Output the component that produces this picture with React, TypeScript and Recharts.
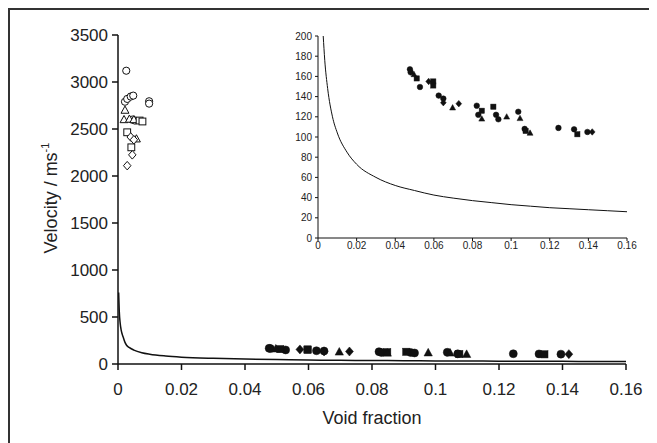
import React from "react";
import { ComposedChart, Line, Scatter, XAxis, YAxis } from "recharts";

// Model curve: [void fraction, velocity]
const curve: [number, number][] = [
  [0.0002, 760], [0.0004, 560], [0.0007, 430], [0.001, 360], [0.0016, 290],
  [0.0022, 230], [0.0027, 200], [0.0035, 176], [0.005, 148], [0.0075, 120],
  [0.01, 104], [0.015, 85], [0.02, 73], [0.03, 60], [0.04, 52], [0.05, 47],
  [0.06, 42.5], [0.07, 39.5], [0.08, 37], [0.09, 35], [0.1, 33], [0.11, 31.5],
  [0.12, 30], [0.13, 29], [0.14, 28], [0.15, 27], [0.16, 26],
];

// Open markers (low void fraction)
const openCircles: [number, number][] = [
  [0.0026, 3120], [0.0022, 2790], [0.0029, 2820], [0.004, 2845], [0.0048, 2855],
  [0.0098, 2795], [0.0098, 2770], [0.0045, 2600], [0.0053, 2590],
];
const openTriangles: [number, number][] = [
  [0.0022, 2700], [0.0019, 2600], [0.0036, 2605], [0.005, 2600], [0.0058, 2395],
];
const openSquares: [number, number][] = [
  [0.0029, 2465], [0.0042, 2305], [0.0068, 2590], [0.0077, 2580],
];
const openDiamonds: [number, number][] = [
  [0.004, 2415], [0.0045, 2225], [0.0029, 2110], [0.005, 2385],
];

// Filled markers (higher void fraction)
const filledCircles: [number, number][] = [
  [0.0476, 167], [0.048, 164], [0.0528, 149.5], [0.0625, 141], [0.0649, 138],
  [0.0822, 131], [0.083, 122], [0.0922, 122], [0.0934, 117.5], [0.1037, 125],
  [0.107, 108], [0.1245, 109], [0.1326, 107.6], [0.1395, 105],
];
const filledSquares: [number, number][] = [
  [0.0511, 158], [0.0597, 155], [0.0597, 151], [0.0848, 126], [0.0908, 130],
  [0.1075, 106], [0.1343, 102.7],
];
const filledTriangles: [number, number][] = [
  [0.0497, 162], [0.0697, 129], [0.0848, 118], [0.0977, 120], [0.1046, 118.5],
  [0.1098, 104],
];
const filledDiamonds: [number, number][] = [
  [0.0573, 155], [0.0649, 134], [0.0729, 133], [0.142, 105],
];

const mainXTicks = [0, 0.02, 0.04, 0.06, 0.08, 0.1, 0.12, 0.14, 0.16];
const mainYTicks = [0, 500, 1000, 1500, 2000, 2500, 3000, 3500];
const insetYTicks = [0, 20, 40, 60, 80, 100, 120, 140, 160, 180, 200];

const toObj = (a: [number, number][]) => a.map(([x, v]) => ({ x, v }));

type Kind = "circle" | "square" | "triangle" | "diamond";
const makeShape = (kind: Kind, s: number, filled: boolean) => (props: any) => {
  const { cx, cy } = props;
  if (cx == null || cy == null) return <g />;
  const fill = filled ? "#111" : "#fff";
  const stroke = "#111";
  const sw = filled ? 0.5 : 1;
  if (kind === "circle") return <circle cx={cx} cy={cy} r={s} fill={fill} stroke={stroke} strokeWidth={sw} />;
  if (kind === "square")
    return <rect x={cx - s} y={cy - s} width={2 * s} height={2 * s} fill={fill} stroke={stroke} strokeWidth={sw} />;
  if (kind === "triangle")
    return (
      <polygon
        points={`${cx},${cy - s * 1.15} ${cx - s * 1.1},${cy + s * 0.85} ${cx + s * 1.1},${cy + s * 0.85}`}
        fill={fill} stroke={stroke} strokeWidth={sw}
      />
    );
  return (
    <polygon
      points={`${cx},${cy - s * 1.25} ${cx + s * 1.1},${cy} ${cx},${cy + s * 1.25} ${cx - s * 1.1},${cy}`}
      fill={fill} stroke={stroke} strokeWidth={sw}
    />
  );
};

const FONT = "'Liberation Sans', Arial, sans-serif";
const fmt = (v: number) => String(v);

export default function App() {
  const insetCurve = curve.filter(([, v]) => v <= 200);
  return (
    <div style={{ position: "relative", width: 649, height: 435, fontFamily: FONT }}>
      <div
        style={{
          position: "absolute", left: 0, top: 0, width: 649, height: 435,
          borderLeft: "2px solid #333", borderTop: "2px solid #333", boxSizing: "border-box",
        }}
      />
      <div style={{ position: "absolute", left: 0, top: 0 }}>
        <ComposedChart width={649} height={435} margin={{ top: 27, right: 31, bottom: 19, left: 0 }}>
          <XAxis
            type="number" dataKey="x" domain={[0, 0.16]} ticks={mainXTicks} tickFormatter={fmt}
            height={60} tickSize={6} tickMargin={13}
            stroke="#111" strokeWidth={1.5}
            tick={{ fill: "#222", fontSize: 17, fontFamily: FONT }}
            allowDataOverflow
          />
          <YAxis
            type="number" dataKey="v" domain={[0, 3500]} ticks={mainYTicks} tickFormatter={fmt}
            width={110} tickSize={6} tickMargin={4}
            stroke="#111" strokeWidth={1.5}
            tick={{ fill: "#222", fontSize: 17, fontFamily: FONT }}
            allowDataOverflow
          />
          <Line data={toObj(curve)} dataKey="v" type="monotone" dot={false} stroke="#111" strokeWidth={1.5} isAnimationActive={false} />
          <Scatter data={toObj(openCircles)} dataKey="v" shape={makeShape("circle", 3.6, false)} isAnimationActive={false} />
          <Scatter data={toObj(openTriangles)} dataKey="v" shape={makeShape("triangle", 3.6, false)} isAnimationActive={false} />
          <Scatter data={toObj(openSquares)} dataKey="v" shape={makeShape("square", 3.4, false)} isAnimationActive={false} />
          <Scatter data={toObj(openDiamonds)} dataKey="v" shape={makeShape("diamond", 3.4, false)} isAnimationActive={false} />
          <Scatter data={toObj(filledCircles)} dataKey="v" shape={makeShape("circle", 4, true)} isAnimationActive={false} />
          <Scatter data={toObj(filledSquares)} dataKey="v" shape={makeShape("square", 3.6, true)} isAnimationActive={false} />
          <Scatter data={toObj(filledTriangles)} dataKey="v" shape={makeShape("triangle", 3.8, true)} isAnimationActive={false} />
          <Scatter data={toObj(filledDiamonds)} dataKey="v" shape={makeShape("diamond", 3.6, true)} isAnimationActive={false} />
        </ComposedChart>
      </div>
      <div style={{ position: "absolute", left: 270, top: 18 }}>
        <ComposedChart width={380} height={250} margin={{ top: 10, right: 31, bottom: 13, left: 0 }}>
          <XAxis
            type="number" dataKey="x" domain={[0, 0.16]} ticks={mainXTicks} tickFormatter={fmt}
            height={25} tickSize={3} tickMargin={1}
            stroke="#111" strokeWidth={1}
            tick={{ fill: "#222", fontSize: 10, fontFamily: FONT }}
            allowDataOverflow
          />
          <YAxis
            type="number" dataKey="v" domain={[0, 200]} ticks={insetYTicks} tickFormatter={fmt}
            width={40} tickSize={3} tickMargin={3}
            stroke="#111" strokeWidth={1}
            tick={{ fill: "#222", fontSize: 10, fontFamily: FONT }}
            allowDataOverflow
          />
          <Line data={toObj(insetCurve)} dataKey="v" type="monotone" dot={false} stroke="#111" strokeWidth={1} isAnimationActive={false} />
          <Scatter data={toObj(filledCircles)} dataKey="v" shape={makeShape("circle", 2.8, true)} isAnimationActive={false} />
          <Scatter data={toObj(filledSquares)} dataKey="v" shape={makeShape("square", 2.6, true)} isAnimationActive={false} />
          <Scatter data={toObj(filledTriangles)} dataKey="v" shape={makeShape("triangle", 2.7, true)} isAnimationActive={false} />
          <Scatter data={toObj(filledDiamonds)} dataKey="v" shape={makeShape("diamond", 2.6, true)} isAnimationActive={false} />
        </ComposedChart>
      </div>
      <svg width={649} height={435} style={{ position: "absolute", left: 0, top: 0, pointerEvents: "none" }}>
        <text x={364} y={416} textAnchor="middle" fontSize={18} fill="#222" fontFamily={FONT}>
          Void fraction
        </text>
        <text
          transform="translate(48.5,190) rotate(-90)" textAnchor="middle"
          fontSize={18} fill="#222" fontFamily={FONT}
        >
          Velocity / ms<tspan fontSize={11} dy={-8}>-1</tspan>
        </text>
      </svg>
    </div>
  );
}
